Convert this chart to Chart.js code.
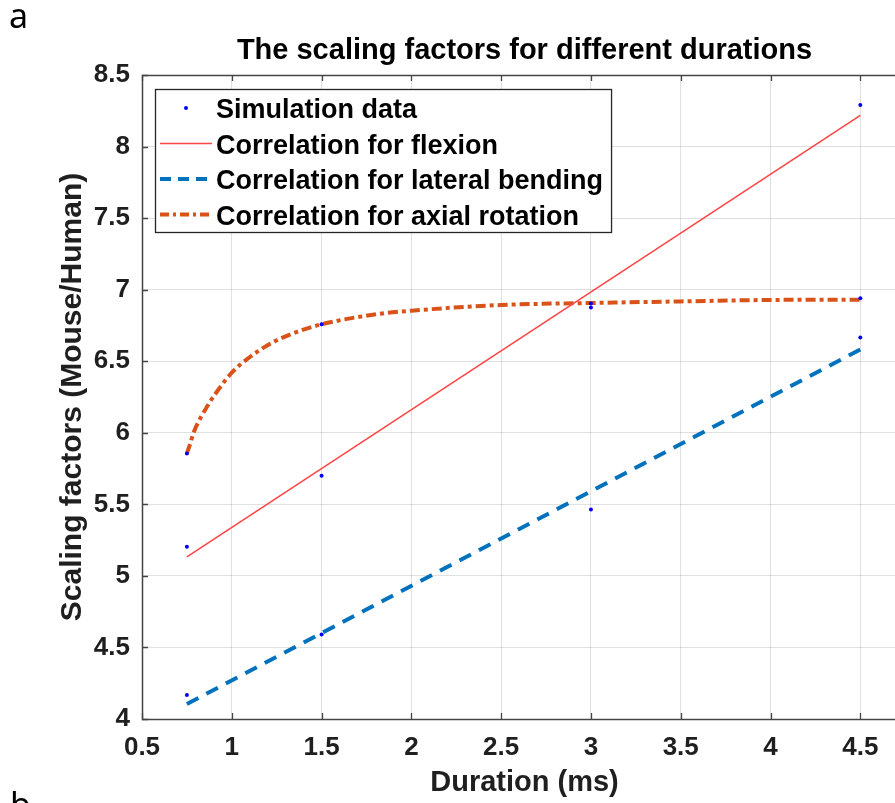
<!DOCTYPE html>
<html><head><meta charset="utf-8">
<script src="https://cdn.jsdelivr.net/npm/chart.js@4.4.1/dist/chart.umd.min.js"></script>
<style>
html,body{margin:0;padding:0;background:#fff;width:895px;height:803px;overflow:hidden;position:relative}
#wrap{position:absolute;left:0;top:0;width:930px;height:803px}
.lab{position:absolute;font-family:"Noto Sans",sans-serif;font-size:34px;line-height:34px;color:#000}
</style></head><body>
<div id="wrap"><canvas id="c" width="930" height="803"></canvas></div>
<div class="lab" style="left:9px;top:-2px">a</div>
<div class="lab" style="left:10px;top:787px">b</div>
<script>
const xTicks = [0.5, 1, 1.5, 2, 2.5, 3, 3.5, 4, 4.5];
const yTicks = [4, 4.5, 5, 5.5, 6, 6.5, 7, 7.5, 8, 8.5];

const simX = [0.75, 0.75, 0.75, 1.5, 1.5, 1.5, 3, 3, 3, 4.5, 4.5, 4.5];
const simY = [5.855, 5.203, 4.168, 6.758, 5.70, 4.59, 6.903, 6.875, 5.464, 8.29, 6.94, 6.665];

const flexX = [0.75, 4.5];
const flexY = [5.133, 8.218];

const latX = [0.75, 4.5];
const latY = [4.105, 6.582];

const axX = [0.75, 0.769, 0.787, 0.871, 0.936, 1.0, 1.085, 1.233, 1.363, 1.5, 1.827, 2.0, 2.5, 3.0, 3.5, 4.0, 4.5];
const axY = [5.855, 5.926, 6.0, 6.2, 6.32, 6.42, 6.515, 6.635, 6.705, 6.758, 6.832, 6.853, 6.893, 6.907, 6.918, 6.928, 6.93];

const seriesLabels = ['Simulation data', 'Correlation for flexion', 'Correlation for lateral bending', 'Correlation for axial rotation'];

const FONT = '"Liberation Sans", Arial, Helvetica, sans-serif';
const pts = (xs, ys) => xs.map((x, i) => ({x: x, y: ys[i]}));

const framePlugin = {
  id: 'frame',
  afterDraw(chart) {
    const ctx = chart.ctx;
    const a = chart.chartArea;
    const xs = chart.scales.x, ys = chart.scales.y;
    ctx.save();
    ctx.strokeStyle = '#444';
    ctx.lineWidth = 1.3;
    ctx.beginPath();
    xTicks.forEach(v => {
      const px = Math.round(xs.getPixelForValue(v)) + 0.5;
      ctx.moveTo(px, a.bottom); ctx.lineTo(px, a.bottom - 6);
      ctx.moveTo(px, a.top); ctx.lineTo(px, a.top + 6);
    });
    yTicks.forEach(v => {
      const py = Math.round(ys.getPixelForValue(v)) + 0.5;
      ctx.moveTo(a.left, py); ctx.lineTo(a.left + 6, py);
      ctx.moveTo(a.right, py); ctx.lineTo(a.right - 6, py);
    });
    ctx.stroke();
    ctx.lineWidth = 1.5;
    ctx.strokeStyle = '#444';
    ctx.strokeRect(Math.round(a.left) + 0.5, Math.round(a.top) + 0.5, Math.round(a.right - a.left), Math.round(a.bottom - a.top));

    const ds = chart.data.datasets;
    const lf = 'bold 27px ' + FONT;
    ctx.font = lf;
    let maxW = 0;
    ds.forEach(d => { maxW = Math.max(maxW, ctx.measureText(d.label).width); });
    const L = a.left + 13, T = a.top + 14;
    const textX = L + 61;
    const W = textX - L + maxW + 8, H = 143;
    ctx.fillStyle = '#fff';
    ctx.fillRect(L, T, W, H);
    ctx.lineWidth = 1.3;
    ctx.strokeStyle = '#262626';
    ctx.strokeRect(L + 0.5, T + 0.5, W, H);
    ds.forEach((d, i) => {
      const cy = T + 21 + i * 35.5;
      if (i === 0) {
        ctx.fillStyle = d.pointBackgroundColor;
        ctx.beginPath(); ctx.arc(L + 31, cy - 2, 2, 0, Math.PI * 2); ctx.fill();
      } else {
        ctx.save();
        ctx.strokeStyle = d.borderColor;
        ctx.lineWidth = d.borderWidth;
        ctx.setLineDash(d.legendDash || []);
        ctx.beginPath(); ctx.moveTo(L + 5, cy - 2); ctx.lineTo(L + 57, cy - 2); ctx.stroke();
        ctx.restore();
      }
      ctx.fillStyle = '#000';
      ctx.font = lf;
      ctx.textBaseline = 'middle';
      ctx.textAlign = 'left';
      ctx.fillText(d.label, textX, cy + 1);
    });
    ctx.restore();
  }
};

const fmt = v => String(Math.round(v * 100) / 100);

new Chart(document.getElementById('c'), {
  type: 'scatter',
  data: {
    datasets: [
      {label: seriesLabels[0], data: pts(simX, simY), showLine: false, pointRadius: 2, pointBorderWidth: 0,
       pointBackgroundColor: '#0000ff', pointBorderColor: '#0000ff'},
      {label: seriesLabels[1], data: pts(flexX, flexY), showLine: true, borderColor: '#ff4646', borderWidth: 1.6, pointRadius: 0},
      {label: seriesLabels[2], data: pts(latX, latY), showLine: true, borderColor: '#0072BD', borderWidth: 4,
       borderDash: [13, 9], legendDash: [11, 7], pointRadius: 0},
      {label: seriesLabels[3], data: pts(axX, axY), showLine: true, borderColor: '#D95319', borderWidth: 4,
       borderDash: [10, 4, 4, 4], legendDash: [9, 4, 3, 4], cubicInterpolationMode: 'monotone', pointRadius: 0}
    ]
  },
  options: {
    responsive: false, animation: false, devicePixelRatio: 1,
    events: [],
    layout: {padding: {left: 0, right: 23, top: 0, bottom: 0}},
    plugins: {
      legend: {display: false}, tooltip: {enabled: false},
      title: {display: true, text: 'The scaling factors for different durations', fullSize: false,
        font: {family: FONT, size: 29, weight: 'bold'}, color: '#000', padding: {top: 34, bottom: 6.2}}
    },
    scales: {
      x: {
        type: 'linear', min: 0.5, max: 4.76,
        afterBuildTicks: s => { s.ticks = xTicks.map(v => ({value: v})); },
        afterFit: s => { s.height = 84; },
        ticks: {font: {family: FONT, size: 26, weight: 'bold'}, color: '#1f1f1f', padding: 13, maxRotation: 0, autoSkip: false, callback: fmt},
        grid: {color: 'rgba(0,0,0,0.12)', drawTicks: false, lineWidth: 1},
        border: {display: false},
        title: {display: true, text: 'Duration (ms)', font: {family: FONT, size: 29, weight: 'bold'}, color: '#1f1f1f',
          padding: {top: 0, bottom: 2.6}}
      },
      y: {
        type: 'linear', min: 4, max: 8.5,
        afterBuildTicks: s => { s.ticks = yTicks.map(v => ({value: v})); },
        afterFit: s => { s.width = 142; },
        ticks: {font: {family: FONT, size: 26, weight: 'bold'}, color: '#1f1f1f', padding: 12, autoSkip: false, callback: fmt},
        grid: {color: 'rgba(0,0,0,0.12)', drawTicks: false, lineWidth: 1},
        border: {display: false},
        title: {display: true, text: 'Scaling factors (Mouse/Human)', font: {family: FONT, size: 30, weight: 'bold'}, color: '#1f1f1f',
          padding: {top: 55, bottom: 0}}
      }
    }
  },
  plugins: [framePlugin]
});
</script>
</body></html>
